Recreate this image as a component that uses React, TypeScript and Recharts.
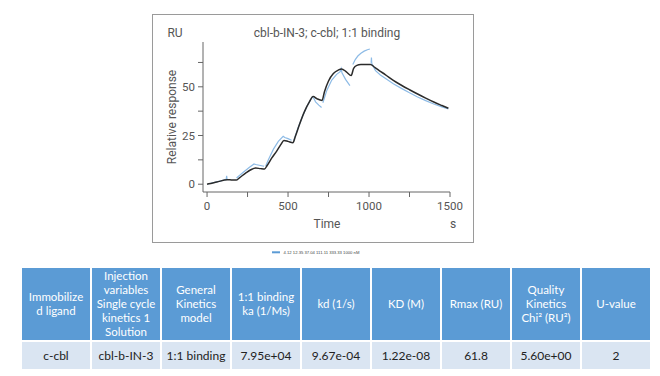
import React from 'react';
import { LineChart, Line, XAxis, YAxis } from 'recharts';

// Fitted 1:1 binding curve (black)
const fitTime = [0, 10, 60, 125, 150, 180, 200, 240, 270, 300, 330, 355, 370, 400, 430, 455, 475, 500, 530, 545, 570, 600, 630, 655, 680, 710, 725, 750, 780, 810, 830, 860, 890, 905, 925, 950, 1010, 1030, 1065, 1100, 1150, 1200, 1250, 1300, 1350, 1400, 1450, 1490];
const fitRU = [0, 0.2, 1.1, 2.3, 2.2, 2.1, 3.3, 5.8, 7.4, 8.3, 8.0, 7.8, 9.5, 13.5, 17.0, 20.3, 22.5, 22.0, 21.3, 24.5, 30.5, 37.0, 42.0, 45.0, 43.8, 43.0, 47.5, 53.0, 56.8, 58.6, 59.2, 57.7, 55.8, 59.5, 61.0, 61.4, 61.5, 60.3, 58.2, 56.3, 53.3, 50.8, 48.5, 46.3, 44.2, 42.2, 40.4, 39.0];

// Measured sensorgram (blue), null = gap between cycles
const obsTime = [5, 60, 118, 121, 124, 150, 182, 220, 260, 290, 300, 330, 352, 357, 362, 380, 410, 440, 470, 480, 500, 522, 527, 535, 560, 590, 620, 650, 660, 670, 690, 707, 711, 715, 740, 770, 800, 822, 828, 833, 855, 882, 892, 900, 915, 931, 950, 970, 990, 1005, 1009, 1013, 1015, 1017, 1040, 1070, 1100, 1150, 1200, 1250, 1300, 1350, 1400, 1450, 1490];
const obsRU: (number | null)[] = [0.1, 1.2, 2.4, 4.3, 2.2, null, 3.2, 5.9, 8.6, 10.4, 10.1, 9.6, 9.2, null, 9.4, 12.8, 18.0, 22.0, 24.6, 24.0, 23.4, 22.6, null, 22.4, 28.5, 35.0, 40.5, 44.8, 44.0, 42.3, 40.6, 39.4, null, 41.8, 48.3, 53.5, 56.4, 57.8, 59.3, 57.2, 53.8, 50.6, null, 61.5, 64.0, 65.8, 67.2, 68.3, 69.0, 69.4, null, 62.3, 65.0, 62.0, 58.3, 56.1, 54.4, 51.6, 49.2, 46.9, 44.8, 42.9, 41.2, 39.7, 38.6];

const xTicks = [0, 250, 500, 750, 1000, 1250, 1500];
const yTicks = [0, 12.5, 25, 37.5, 50, 62.5];
const concentrations = ['4.12', '12.35', '37.04', '111.11', '333.33', '1000'];

const tableHeaders: React.ReactNode[][] = [
  ['Immobilize', 'd ligand'],
  ['Injection', 'variables', 'Single cycle', 'kinetics 1', 'Solution'],
  ['General', 'Kinetics', 'model'],
  ['1:1 binding', 'ka (1/Ms)'],
  ['kd (1/s)'],
  ['KD (M)'],
  ['Rmax (RU)'],
  ['Quality', 'Kinetics', 'Chi\u00B2 (RU\u00B2)'],
  ['U-value'],
];
const tableValues = ['c-cbl', 'cbl-b-IN-3', '1:1 binding', '7.95e+04', '9.67e-04', '1.22e-08', '61.8', '5.60e+00', '2'];

const fitData = fitTime.map((t, i) => ({ t, ru: fitRU[i] }));
const obsData = obsTime.map((t, i) => ({ t, ru: obsRU[i] }));

const chartFont = 'Roboto, "Liberation Sans", sans-serif';
const tableFont = 'Lato, "Open Sans", sans-serif';

const abs = (left: number, top: number, extra: React.CSSProperties = {}): React.CSSProperties => ({
  position: 'absolute', left, top, transform: 'translate(-50%, -50%)', whiteSpace: 'nowrap', ...extra,
});

export default function App() {
  return (
    <div style={{ position: 'absolute', left: 0, top: 0, width: 660, height: 376, background: '#fff', overflow: 'hidden' }}>
      <div style={{ position: 'absolute', left: 152, top: 14, width: 320, height: 227, border: '1px solid #9a9a9a', fontFamily: chartFont }}>
        <LineChart width={320} height={227} margin={{ top: 27, right: 23, bottom: 0, left: 0 }}>
          <XAxis
            type="number"
            dataKey="t"
            domain={[-25, 1500]}
            ticks={xTicks}
            allowDataOverflow
            tickFormatter={(v: number) => (v % 500 === 0 ? String(v) : '')}
            tickSize={5}
            tickMargin={5}
            height={50}
            stroke="#666"
            tick={{ fill: '#555', fontSize: 11.5 }}
          />
          <YAxis
            type="number"
            domain={[-4, 73]}
            ticks={yTicks}
            allowDataOverflow
            tickFormatter={(v: number) => (v % 25 === 0 ? String(v) : '')}
            tickSize={5}
            tickMargin={3}
            width={50}
            stroke="#666"
            tick={{ fill: '#555', fontSize: 11.5 }}
          />
          <Line data={obsData} dataKey="ru" type="linear" stroke="#8dbbe6" strokeWidth={1.2} dot={false} connectNulls={false} isAnimationActive={false} />
          <Line data={fitData} dataKey="ru" type="monotone" stroke="#2b2b2b" strokeWidth={1.5} dot={false} isAnimationActive={false} />
        </LineChart>
      </div>
      <div style={abs(175, 33, { fontFamily: chartFont, fontSize: 12, color: '#555' })}>RU</div>
      <div style={abs(327, 33, { fontFamily: chartFont, fontSize: 12, color: '#555' })}>cbl-b-IN-3; c-cbl; 1:1 binding</div>
      <div style={abs(172, 117, { fontFamily: chartFont, fontSize: 12, color: '#555', transform: 'translate(-50%, -50%) rotate(-90deg)' })}>Relative response</div>
      <div style={abs(327, 224, { fontFamily: chartFont, fontSize: 12, color: '#555' })}>Time</div>
      <div style={abs(453, 224, { fontFamily: chartFont, fontSize: 12, color: '#555' })}>s</div>

      <svg style={{ position: 'absolute', left: 260, top: 246 }} width={120} height={12}>
        <line x1={12} y1={6.3} x2={20} y2={6.3} stroke="#5b9bd5" strokeWidth={2} />
        <text x={23.5} y={7.8} fontSize={4.2} fill="#444" fontFamily="Liberation Sans, sans-serif">
          {concentrations.join(' ') + ' nM'}
        </text>
      </svg>

      <table style={{ position: 'absolute', left: 20, top: 266, width: 632, borderCollapse: 'collapse', tableLayout: 'fixed', fontFamily: tableFont }}>
        <tbody>
          <tr style={{ height: 74 }}>
            {tableHeaders.map((lines, i) => (
              <td key={i} style={{ background: '#5b9bd5', color: '#fff', border: '2px solid #fff', textAlign: 'center', verticalAlign: 'middle', fontSize: 11.5, lineHeight: '14px', padding: 0, whiteSpace: 'nowrap' }}>
                {lines.map((l, j) => (
                  <div key={j}>{l}</div>
                ))}
              </td>
            ))}
          </tr>
          <tr style={{ height: 29 }}>
            {tableValues.map((v, i) => (
              <td key={i} style={{ background: '#dae5f2', color: '#222', border: '2px solid #fff', textAlign: 'center', verticalAlign: 'middle', fontSize: 12, padding: 0 }}>
                {v}
              </td>
            ))}
          </tr>
        </tbody>
      </table>
    </div>
  );
}
